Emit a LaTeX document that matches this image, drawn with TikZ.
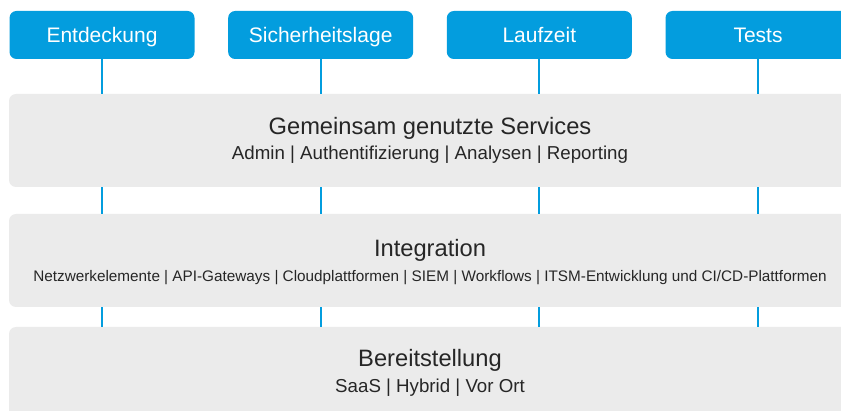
\documentclass[tikz,border=0pt]{standalone}
\usepackage{fontspec}
\setmainfont{Liberation Sans}
\usetikzlibrary{positioning}
\definecolor{boxblue}{HTML}{039DDE}
\definecolor{layergrey}{HTML}{EBEBEB}
\definecolor{textgrey}{HTML}{262626}

\tikzset{
  every topic/.style={fill=boxblue, text=white, rounded corners=7pt, minimum width=185pt, minimum height=48pt, inner sep=0pt, text height=19.6pt, text depth=4.2pt, font=\fontsize{21}{25}\selectfont},
  every layer/.style={fill=layergrey, rounded corners=7pt, minimum width=842pt, minimum height=93pt, inner sep=0pt},
  layer title/.style={text=textgrey, anchor=base, inner sep=0pt, font=\fontsize{23.7}{28}\selectfont},
  layer text/.style={text=textgrey, anchor=base, inner sep=0pt, font=\fontsize{18.7}{22}\selectfont},
  link/.style={draw=boxblue, line width=2pt},
}

\begin{document}
\begin{tikzpicture}[x=1pt, y=-1pt]
      \useasboundingbox (0,0) rectangle (841,411);
      \clip (0,0) rectangle (841,411);

      % The three layers
      \node [every layer/.try] (layer-1) at (430,140.5) {};
      \node [every layer/.try] (layer-2) at (430,260.5) {};
      \node [every layer/.try] (layer-3) at (430,373.5) {};

      % The topics on top
      \foreach \l [count=\i] in {Entdeckung, Sicherheitslage, Laufzeit, Tests}
        \node [every topic/.try] (topic-\i) at (102+218.67*\i-218.67,35) {\l};

      % Add the labels to the layers
      \foreach \t/\y [count=\i] in {Gemeinsam genutzte Services/135, Integration/257, Bereitstellung/367}
        \node [layer title] (title-\i) at (430,\y) {\t};

      \node [layer text] (items-1) at (430,160) {Admin | Authentifizierung | Analysen | Reporting};
      \node [layer text, font=\fontsize{15.3}{18}\selectfont] (items-2) at (430,282)
        {Netzwerkelemente | API-Gateways | Cloudplattformen | SIEM | Workflows | ITSM-Entwicklung und CI/CD-Plattformen};
      \node [layer text] (items-3) at (430,393) {SaaS | Hybrid | Vor Ort};

      % Draw the connecting lines
      \foreach \i in {1,...,4}{
        \draw [link] (topic-\i.south) -- (topic-\i |- layer-1.north);
        \draw [link] (topic-\i |- layer-1.south) -- (topic-\i |- layer-2.north);
        \draw [link] (topic-\i |- layer-2.south) -- (topic-\i |- layer-3.north);
      }
\end{tikzpicture}
\end{document}
